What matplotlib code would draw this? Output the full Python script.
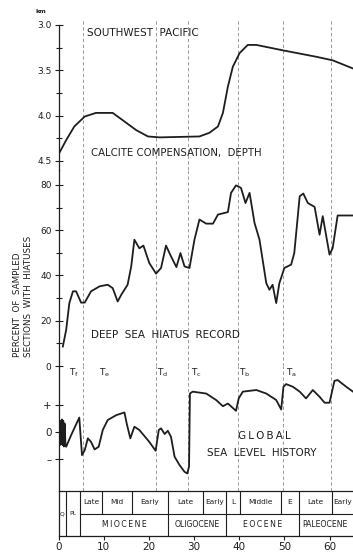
import matplotlib.pyplot as plt
from matplotlib.ticker import MultipleLocator, FixedLocator

# ages in Myr (x axis shared by all panels)
ccd_age = [0.2, 1.7, 3.5, 5.8, 8.3, 12.0, 14.2, 17.2, 19.8, 22.4, 31.2, 33.4, 35.3,
           36.4, 37.5, 38.6, 40.1, 41.9, 43.8, 49.7, 57.0, 60.7, 65.2]
ccd_depth = [4.41, 4.27, 4.12, 4.01, 3.97, 3.97, 4.05, 4.16, 4.23, 4.24, 4.23, 4.19, 4.12,
             3.97, 3.68, 3.46, 3.31, 3.22, 3.22, 3.28, 3.35, 3.39, 3.48]

hiatus_age = [0.96, 1.7, 2.4, 3.2, 3.9, 5.0, 5.8, 7.2, 9.1, 10.9, 12.0, 13.1, 13.9, 15.3,
              16.1, 16.8, 17.9, 18.8, 20.1, 21.6, 22.7, 23.8, 24.9, 26.1, 27.0, 27.9, 29.0,
              30.1, 31.2, 32.7, 34.2, 35.3, 37.5, 38.2, 39.3, 40.4, 41.4, 42.3, 43.4, 44.5,
              46.0, 46.7, 47.4, 48.2, 48.9, 50.0, 51.5, 52.2, 53.4, 54.2, 55.2, 56.7, 57.8,
              58.5, 60.0, 60.7, 61.8, 65.2]
hiatus_pct = [8.6, 16, 27.8, 33, 33, 28, 28, 33, 35.2, 35.9, 34.4, 28.5, 31.5, 35.9,
              44, 55.8, 52, 53.2, 45.5, 40.8, 43.3, 53.2, 48.5, 43.7, 49.9, 44, 43.3,
              55.8, 64.7, 62.9, 62.9, 66.9, 68, 76.5, 79.8, 78.7, 72, 76.5, 63.2, 55.8,
              36.6, 33.7, 35.9, 27.8, 36.6, 43.3, 44.8, 49.9, 75, 76.2, 72, 70.3, 58,
              66.2, 49.2, 52.1, 66.5, 66.5]

sl_age = [0.0, 0.15, 0.3, 0.45, 0.6, 0.75, 0.9, 1.05, 1.2, 1.35, 1.55, 1.7, 2.8, 4.6, 5.2,
          5.8, 6.5, 7.2, 8.0, 8.9, 9.8, 10.9, 12.8, 14.6, 15.1, 15.9, 16.8, 17.9, 20.1,
          21.5, 22.2, 22.7, 23.5, 24.2, 24.9, 25.7, 26.8, 27.9, 28.5, 28.9, 29.1, 29.7,
          32.7, 34.9, 36.4, 37.5, 39.3, 39.9, 40.8, 43.8, 46.0, 48.2, 49.3, 49.8, 50.4,
          51.9, 53.4, 54.8, 56.3, 57.8, 58.9, 60.0, 61.1, 61.8, 63.7, 65.2]
sl_level = [0.0, 0.35, -0.5, 0.4, -0.45, 0.45, -0.5, 0.4, -0.55, 0.3, -0.5, -0.56, -0.13,
            0.52, -0.87, -0.69, -0.25, -0.38, -0.66, -0.56, 0.06, 0.43, 0.61, 0.71, 0.30,
            -0.25, 0.18, 0.06, -0.38, -0.71, 0.06, 0.12, -0.09, 0.03, -0.19, -0.93, -1.24,
            -1.49, -1.55, -1.30, 1.41, 1.48, 1.41, 1.17, 0.94, 1.04, 0.77, 1.23, 1.48,
            1.54, 1.41, 1.17, 0.82, 1.66, 1.76, 1.66, 1.48, 1.23, 1.54, 1.29, 1.07, 1.07,
            1.88, 1.91, 1.66, 1.48]

# foraminiferal zone boundaries and labels
zone_lines = [5.4, 21.6, 28.7, 39.8, 49.6, 60.4]
zone_names = ['f', 'e', 'd', 'c', 'b', 'a']
zone_label_age = [3.5, 10.2, 23.0, 30.5, 41.2, 51.6]

# time scale table
sub_bounds = [4.8, 9.7, 16.3, 24.2, 31.9, 37.1, 40.2, 49.3, 53.2, 60.5, 65.1]
sub_names = ['Late', 'Mid', 'Early', 'Late', 'Early', 'L', 'Middle', 'E', 'Late', 'Early']
epoch_bounds = [4.8, 24.2, 37.1, 53.2, 64.6]
epoch_names = ['MIOCENE', 'OLIGOCENE', 'EOCENE', 'PALEOCENE']
full_lines = [1.55, 4.8, 24.2, 37.1, 53.2]
x_ticks = [0, 10, 20, 30, 40, 50, 60]

ink = '#1e1e1e'
W, H = 353, 554
XMAX = 65.2


def box(top, bottom):
    return [58.5 / W, (H - bottom) / H, 1 - 58.5 / W, (bottom - top) / H]


def spaced(s):
    return '\u2009'.join(s)


fig = plt.figure(figsize=(W / 100, H / 100), dpi=100)
ax1 = fig.add_axes(box(20, 170))
ax2 = fig.add_axes(box(170, 366))
ax3 = fig.add_axes(box(366, 491))
ax4 = fig.add_axes(box(491, 536))

for ax in (ax1, ax2, ax3, ax4):
    ax.set_xlim(0, XMAX)
    ax.patch.set_alpha(0)
    for s in ('top', 'right', 'bottom'):
        ax.spines[s].set_visible(False)
    ax.spines['left'].set_color(ink)
    ax.spines['left'].set_linewidth(0.9)
    ax.tick_params(axis='y', which='both', direction='inout', colors=ink,
                   labelsize=6.5, pad=2, width=0.8)
    ax.tick_params(axis='y', which='major', length=6)
    ax.tick_params(axis='y', which='minor', length=5)
    if ax is not ax4:
        ax.set_xticks([])
        for a in zone_lines:
            ax.axvline(a, color='#8a8a8a', lw=0.6, ls=(0, (4, 3)), zorder=1)

# calcite compensation depth
ax1.plot(ccd_age, ccd_depth, color=ink, lw=1.3)
ax1.set_ylim(4.6, 2.945)
ax1.spines['left'].set_bounds(3.0, 4.6)
ax1.yaxis.set_major_locator(FixedLocator([3.0, 3.5, 4.0, 4.5]))
ax1.yaxis.set_minor_locator(FixedLocator([3.25, 3.75, 4.25]))
ax1.set_yticklabels(['3.0', '3.5', '4.0', '4.5'])
ax1.text(6.4, 3.09, 'SOUTHWEST  PACIFIC', fontsize=7.5, color=ink, va='center')
ax1.text(7.3, 4.41, 'CALCITE COMPENSATION,  DEPTH', fontsize=7.3, color=ink, va='center')
fig.text(41 / W, 1 - 11.5 / H, 'km', fontsize=4.5, color=ink, ha='center', va='center',
         fontweight='bold')

# hiatus record
ax2.plot(hiatus_age, hiatus_pct, color=ink, lw=1.3)
ax2.set_ylim(0, 86.6)
ax2.yaxis.set_major_locator(MultipleLocator(20))
ax2.yaxis.set_minor_locator(MultipleLocator(10))
ax2.text(7.3, 13.7, 'DEEP  SEA  HIATUS  RECORD', fontsize=7.5, color=ink, va='center')
fig.text(23 / W, 1 - 296 / H, 'PERCENT  OF  SAMPLED\nSECTIONS  WITH  HIATUSES',
         rotation=90, fontsize=6.3, color=ink, ha='center', va='center',
         multialignment='left', linespacing=1.15)

# sea level
ax3.plot(sl_age, sl_level, color=ink, lw=1.3)
ax3.set_ylim(-2.2, 2.43)
ax3.set_yticks([1, 0, -1])
ax3.set_yticklabels(['+', '0', '\u2013'])
ax3.tick_params(axis='y', labelsize=7.5)
for a, n in zip(zone_label_age, zone_names):
    ax3.text(a, 2.18, r'$\mathregular{T_%s}$' % n, fontsize=6.5, color=ink,
             ha='center', va='center')
ax3.text(45.6, -0.17, spaced('GLOBAL'), fontsize=7.5, color=ink, ha='center', va='center')
ax3.text(44.9, -0.81, 'SEA  LEVEL  HISTORY', fontsize=7.5, color=ink, ha='center', va='center')

# time scale table
ax4.set_ylim(0, 1)
ax4.set_yticks([])
ax4.spines['top'].set_visible(True)
ax4.spines['bottom'].set_visible(True)
for s in ('top', 'bottom'):
    ax4.spines[s].set_color(ink)
    ax4.spines[s].set_linewidth(0.9)
for a in full_lines:
    ax4.axvline(a, color=ink, lw=0.8)
for a in sub_bounds[1:-1]:
    if a not in full_lines:
        ax4.axvline(a, ymin=0.5, ymax=1, color=ink, lw=0.8)
ax4.plot([sub_bounds[0], XMAX], [0.5, 0.5], color=ink, lw=0.8)
for i, n in enumerate(sub_names):
    ax4.text((sub_bounds[i] + sub_bounds[i + 1]) / 2, 0.75, n, fontsize=5.3, color=ink,
             ha='center', va='center', clip_on=True)
for i, n in enumerate(epoch_names):
    label = spaced(n) if len(n) < 9 else n
    ax4.text((epoch_bounds[i] + epoch_bounds[i + 1]) / 2, 0.25, label, fontsize=5.6,
             color=ink, ha='center', va='center', clip_on=True)
ax4.text(0.75, 0.5, 'Q', fontsize=4.3, color=ink, ha='center', va='center')
ax4.text(3.2, 0.5, 'PL', fontsize=4.3, color=ink, ha='center', va='center')
ax4.set_xticks(x_ticks)
ax4.tick_params(axis='x', direction='out', length=3, width=0.8, colors=ink,
                labelsize=7.5, pad=1.5)

fig.savefig('out.png', dpi=100)
